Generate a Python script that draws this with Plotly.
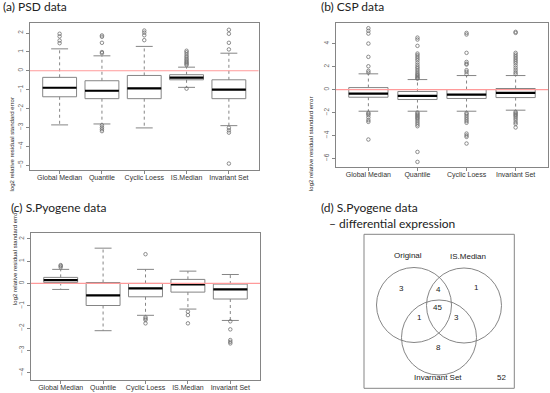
import plotly.graph_objects as go

# ---------------- data ----------------
cats_a = ["Global Median", "Quantile", "Cyclic Loess", "IS.Median", "Invariant Set"]
a_q1 = [-1.38, -1.48, -1.48, -0.48, -1.48]
a_med = [-0.90, -1.06, -0.93, -0.37, -1.00]
a_q3 = [-0.35, -0.53, -0.25, -0.21, -0.48]
a_lo = [-2.87, -2.82, -3.03, -0.88, -2.91]
a_hi = [1.16, 0.79, 1.29, 0.19, 0.93]
a_out = [
    [1.96, 1.82, 1.60, 1.46],
    [1.87, 1.80, 1.48, 0.99, 0.93, -2.89, -3.00, -3.10, -3.20],
    [2.13, 2.02, 1.88, 1.62],
    [0.30, 0.36, 0.42, 0.48, 0.55, 0.62, 0.70, 0.78, 0.88, 0.98, 1.06, -0.95],
    [2.17, 1.96, 1.48, 1.13, -3.02, -3.16, -3.28, -4.92],
]

cats_b = ["Global Median", "Quantile", "Cyclic Loess", "Invariant Set"]
b_q1 = [-0.67, -0.87, -0.78, -0.70]
b_med = [-0.35, -0.55, -0.44, -0.29]
b_q3 = [0.17, -0.17, 0.00, 0.09]
b_lo = [-1.89, -1.89, -1.89, -1.80]
b_hi = [1.37, 0.87, 1.22, 1.22]
b_out = [
    [5.35, 5.12, 4.88, 4.01, 2.85, 2.03, 1.63, 1.48,
     -2.03, -2.12, -2.24, -2.44, -2.67, -2.82, -4.36],
    [4.53, 4.36, 3.81, 3.14, 3.00, 2.85, 2.70, 2.55, 2.35, 2.15, 1.98, 1.85,
     1.70, 1.55, 1.40, 1.30, 1.20, 1.10, 1.00, 0.95,
     -2.00, -2.10, -2.20, -2.30, -2.40, -2.50, -2.60, -2.75, -2.90, -3.05,
     -3.20, -5.44, -6.31],
    [4.94, 4.80, 3.20, 2.41, 2.25, 2.18, 1.69, 1.54, 1.34,
     -2.05, -2.15, -2.30, -2.45, -2.60, -2.75, -2.90, -3.84, -4.00, -4.13, -4.71],
    [5.03, 4.94, 3.20, 3.05, 2.90, 2.75, 2.60, 2.45, 2.30, 2.10, 1.90, 1.70,
     1.50, 1.35, -1.95, -2.05, -2.15, -2.25, -2.35, -2.50, -2.65, -2.85,
     -3.00, -3.31],
]

cats_c = ["Global Median", "Quantile", "Cyclic Loess", "IS.Median", "Invariant Set"]
c_q1 = [0.04, -0.99, -0.60, -0.39, -0.70]
c_med = [0.15, -0.54, -0.22, -0.04, -0.27]
c_q3 = [0.27, 0.04, 0.00, 0.18, -0.03]
c_lo = [-0.27, -2.12, -1.43, -1.15, -1.66]
c_hi = [0.63, 1.58, 0.63, 0.55, 0.40]
c_out = [
    [0.72, 0.78, 0.82],
    [],
    [1.31, -1.52, -1.58, -1.64, -1.79],
    [-1.27, -1.42, -1.79],
    [-1.70, -2.06, -2.54, -2.62, -2.69],
]

venn_sets = ["Original", "IS.Median", "Invarnant Set"]
venn_counts = [3, 4, 1, 45, 1, 3, 8]   # O only, O&IS, IS only, all, O&Inv, IS&Inv, Inv only
venn_outside = 52

titles = ["(a) PSD data", "(b) CSP data", "(c) S.Pyogene data",
          "(d) S.Pyogene data", "\u2013 differential expression"]
ytitle = "log2 relative residual standard error"

# ---------------- styling ----------------
W, H = 550, 393
GRAY = "#858585"
AXF = "Liberation Sans, Arial, sans-serif"
TF = "Lato, Open Sans, sans-serif"

fig = go.Figure()


def px_x(p):
    return p / W


def px_y(p):
    return 1 - p / H


def add_panel(k, cats, q1, med, q3, lo, hi, outs):
    xa = "x" if k == 1 else f"x{k}"
    ya = "y" if k == 1 else f"y{k}"
    pos = list(range(1, len(cats) + 1))
    wx, wy = [], []
    sx, sy = [], []
    mx, my = [], []
    for p, a, b, l, h, m in zip(pos, q1, q3, lo, hi, med):
        wx += [p, p, None, p, p, None]
        wy += [b, h, None, a, l, None]
        sx += [p - 0.2, p + 0.2, None, p - 0.2, p + 0.2, None]
        sy += [h, h, None, l, l, None]
        mx += [p - 0.4, p + 0.4, None]
        my += [m, m, None]
    fig.add_trace(go.Scatter(x=wx, y=wy, mode="lines", xaxis=xa, yaxis=ya,
                             line=dict(color=GRAY, width=1, dash="dot"),
                             hoverinfo="skip", showlegend=False))
    fig.add_trace(go.Scatter(x=sx, y=sy, mode="lines", xaxis=xa, yaxis=ya,
                             line=dict(color=GRAY, width=1),
                             hoverinfo="skip", showlegend=False))
    fig.add_trace(go.Box(x=pos, q1=q1, median=med, q3=q3,
                         lowerfence=q1, upperfence=q3, width=0.8,
                         xaxis=xa, yaxis=ya, fillcolor="white",
                         line=dict(color=GRAY, width=1), whiskerwidth=0,
                         boxpoints=False, showlegend=False, hoverinfo="skip"))
    fig.add_trace(go.Scatter(x=mx, y=my, mode="lines", xaxis=xa, yaxis=ya,
                             line=dict(color="black", width=2.2),
                             hoverinfo="skip", showlegend=False))
    ox, oy = [], []
    for p, o in zip(pos, outs):
        ox += [p] * len(o)
        oy += o
    fig.add_trace(go.Scatter(x=ox, y=oy, mode="markers", xaxis=xa, yaxis=ya,
                             marker=dict(symbol="circle-open", size=3.5,
                                         color="#707070", line=dict(width=0.8)),
                             hoverinfo="skip", showlegend=False))
    fig.add_shape(type="line", xref=f"{xa} domain", yref=ya, x0=0, x1=1,
                  y0=0, y1=0, line=dict(color="#ff9a9a", width=1.2), layer="above")
    return pos


pos_a = add_panel(1, cats_a, a_q1, a_med, a_q3, a_lo, a_hi, a_out)
pos_b = add_panel(2, cats_b, b_q1, b_med, b_q3, b_lo, b_hi, b_out)
pos_c = add_panel(3, cats_c, c_q1, c_med, c_q3, c_lo, c_hi, c_out)

common_x = dict(showgrid=False, zeroline=False, showline=True, mirror=True,
                linecolor=GRAY, linewidth=1, ticks="outside", ticklen=3,
                tickcolor=GRAY, ticklabelstandoff=-2,
                tickfont=dict(family=AXF, size=7, color="#333"))
common_y = dict(showgrid=False, zeroline=False, showline=True, mirror=True,
                linecolor=GRAY, linewidth=1, ticks="outside", ticklen=3,
                tickcolor=GRAY, tickangle=-90,
                tickfont=dict(family=AXF, size=6.5, color="#666"))

fig.update_layout(
    xaxis=dict(domain=[px_x(30), px_x(258.5)], range=[0.3, 5.7],
               tickvals=pos_a, ticktext=cats_a, anchor="y", **common_x),
    yaxis=dict(domain=[px_y(170), px_y(23)], range=[-5.26, 2.53],
               tickvals=list(range(-5, 3)), anchor="x", **common_y),
    xaxis2=dict(domain=[px_x(336), px_x(548)], range=[0.34, 4.66],
                tickvals=pos_b, ticktext=cats_b, anchor="y2", **common_x),
    yaxis2=dict(domain=[px_y(166.7), px_y(22.7)], range=[-6.73, 5.83],
                tickvals=list(range(-6, 5, 2)), anchor="x2", **common_y),
    xaxis3=dict(domain=[px_x(31), px_x(260)], range=[0.3, 5.7],
                tickvals=pos_c, ticktext=cats_c, anchor="y3", **common_x),
    yaxis3=dict(domain=[px_y(380), px_y(233)], range=[-4.33, 2.26],
                tickvals=list(range(-4, 3)), anchor="x3", **common_y),
    xaxis4=dict(domain=[px_x(364), px_x(514.3)], range=[364, 514.3],
                showgrid=False, zeroline=False, showticklabels=False,
                showline=False, anchor="y4", fixedrange=True),
    yaxis4=dict(domain=[px_y(388.3), px_y(234.3)], range=[388.3, 234.3],
                showgrid=False, zeroline=False, showticklabels=False,
                showline=False, anchor="x4", fixedrange=True),
)

# Venn frame
fig.add_shape(type="rect", xref="x4 domain", yref="y4 domain", x0=0, x1=1,
              y0=0, y1=1, line=dict(color=GRAY, width=1))

# Venn circles (layout geometry in pixel-like units of axis 4)
circles = [(414, 305), (464, 305.5), (439, 337.5)]
R = 37.5
for cx, cy in circles:
    fig.add_shape(type="circle", xref="x4", yref="y4", x0=cx - R, x1=cx + R,
                  y0=cy - R, y1=cy + R, line=dict(color="#777", width=0.9))

count_pos = [(401.7, 288.5), (438.3, 289.5), (476, 287.5), (437.7, 307.5),
             (419.3, 317.5), (456.7, 317.5), (438.3, 347.5)]
for (x, y), n in zip(count_pos, venn_counts):
    fig.add_annotation(x=x, y=y, xref="x4", yref="y4", text=str(n),
                       showarrow=False, font=dict(family=AXF, size=8, color="#222"))
set_pos = [(408.3, 255.5), (467.7, 256), (438.3, 377.5)]
for (x, y), s in zip(set_pos, venn_sets):
    fig.add_annotation(x=x, y=y, xref="x4", yref="y4", text=s,
                       showarrow=False, font=dict(family=AXF, size=8, color="#222"))
fig.add_annotation(x=501.7, y=377.5, xref="x4", yref="y4", text=str(venn_outside),
                   showarrow=False, font=dict(family=AXF, size=8, color="#222"))

# y-axis titles
for xp, yp in [(6.5, 96), (311, 95), (10, 307)]:
    fig.add_annotation(x=px_x(xp), y=px_y(yp), xref="paper", yref="paper",
                       text=ytitle, textangle=-90, showarrow=False,
                       font=dict(family=AXF, size=6, color="#222"))

# panel titles
title_pos = [(1, 6), (319, 7), (9, 207), (319, 207), (327, 223)]
for (xp, yp), t in zip(title_pos, titles):
    fig.add_annotation(x=px_x(xp), y=px_y(yp), xref="paper", yref="paper",
                       text=t, showarrow=False, xanchor="left", yanchor="middle",
                       font=dict(family=TF, size=12, color="#222"))

fig.update_layout(width=W, height=H, autosize=False,
                  margin=dict(l=0, r=0, t=0, b=0),
                  paper_bgcolor="white", plot_bgcolor="white")

fig.write_html("out.html", config={"displayModeBar": False},
               post_script="document.body.style.margin='0px';")
